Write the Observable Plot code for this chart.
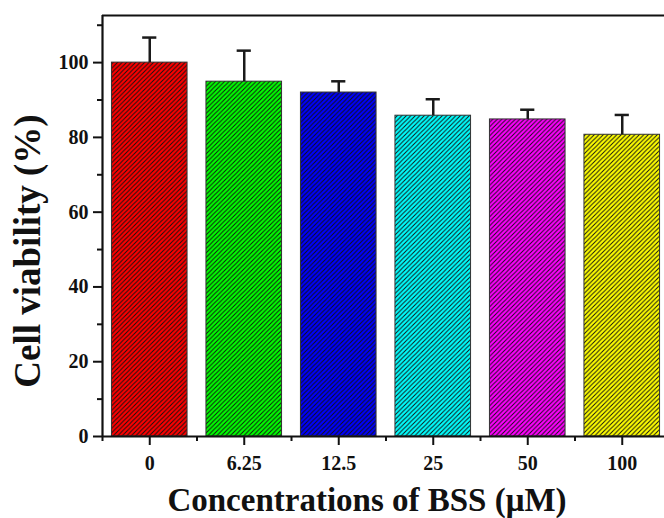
<!DOCTYPE html>
<html><head><meta charset="utf-8">
<script src="https://cdn.jsdelivr.net/npm/d3@7"></script>
<script src="https://cdn.jsdelivr.net/npm/@observablehq/plot@0.6"></script>
<style>body{margin:0;background:#fff}</style>
</head><body><div id="chart"></div>
<script>
const categories = ["0", "6.25", "12.5", "25", "50", "100"];
const viability = [100, 94.9, 92.0, 85.8, 84.8, 80.7];
const errors = [6.7, 8.3, 3.0, 4.4, 2.6, 5.3];
const colors = ["#ff0000", "#00ff00", "#0000ff", "#00ffff", "#ff00ff", "#ffff00"];
const yTicks = [0, 20, 40, 60, 80, 100];
const yMinorTicks = [10, 30, 50, 70, 90, 110];
const xLabel = "Concentrations of BSS (μM)";
const yLabel = "Cell viability (%)";

const data = categories.map((c, i) => ({i, c, v: viability[i], e: errors[i], color: colors[i]}));
const xIdx = categories.map((c, i) => i);
const xMinor = [-0.5, ...categories.map((c, i) => i + 0.5)];
const half = 0.4, cap = 0.075, yTop = 112.6;
const font = "'Liberation Serif', 'Times New Roman', serif";

const plot = Plot.plot({
  width: 664, height: 518,
  marginLeft: 102, marginRight: -5, marginTop: 15, marginBottom: 82,
  style: {fontFamily: font, fontWeight: "bold", background: "#fff", overflow: "hidden", color: "#111"},
  x: {domain: [-0.5, 5.5]},
  y: {domain: [0, yTop]},
  color: {type: "identity"},
  marks: [
    Plot.rectY(data, {x1: d => d.i - half, x2: d => d.i + half, y1: 0, y2: "v", fill: "color"}),
    Plot.rectY(data, {x1: d => d.i - half, x2: d => d.i + half, y1: 0, y2: "v", fill: "url(#hatch)", stroke: "#333", strokeWidth: 1}),
    Plot.ruleX(data, {x: "i", y1: "v", y2: d => d.v + d.e, stroke: "#1a1a1a", strokeWidth: 2.5}),
    Plot.ruleY(data, {x1: d => d.i - cap, x2: d => d.i + cap, y: d => d.v + d.e, stroke: "#1a1a1a", strokeWidth: 2.5}),
    Plot.axisY(yTicks, {tickSize: 9, tickPadding: 5, fontSize: 20, strokeWidth: 2, label: null}),
    Plot.axisY(yMinorTicks, {tickSize: 5, tickFormat: () => "", strokeWidth: 2, label: null}),
    Plot.axisX(xIdx, {tickSize: 9, tickPadding: 10, fontSize: 20, strokeWidth: 2, tickFormat: i => categories[i], label: null}),
    Plot.axisX(xMinor, {tickSize: 5, tickFormat: () => "", strokeWidth: 2, label: null}),
    Plot.ruleY([0], {strokeWidth: 2.2, stroke: "#111"}),
    Plot.ruleY([yTop], {strokeWidth: 2.2, stroke: "#111"}),
    Plot.ruleX([-0.5], {strokeWidth: 2.2, stroke: "#111"}),
    Plot.text([yLabel], {frameAnchor: "left", textAnchor: "middle", lineAnchor: "middle", rotate: -90, dx: -74, dy: 25, fontSize: 37, fontWeight: "bold", fill: "#111"}),
    Plot.text([xLabel], {frameAnchor: "bottom", textAnchor: "middle", lineAnchor: "middle", dx: -19, dy: 64, fontSize: 33, fontWeight: "bold", fill: "#111"})
  ]
});

const ns = "http://www.w3.org/2000/svg";
const defs = document.createElementNS(ns, "defs");
const pat = document.createElementNS(ns, "pattern");
pat.setAttribute("id", "hatch");
pat.setAttribute("patternUnits", "userSpaceOnUse");
pat.setAttribute("width", "4.5");
pat.setAttribute("height", "4.5");
const p = document.createElementNS(ns, "path");
p.setAttribute("d", "M-1,1 l2,-2 M0,4.5 l4.5,-4.5 M3.5,5.5 l2,-2");
p.setAttribute("stroke", "#111");
p.setAttribute("stroke-width", "1");
pat.appendChild(p);
defs.appendChild(pat);
plot.insertBefore(defs, plot.firstChild);
document.getElementById("chart").appendChild(plot);
</script>
</body></html>
